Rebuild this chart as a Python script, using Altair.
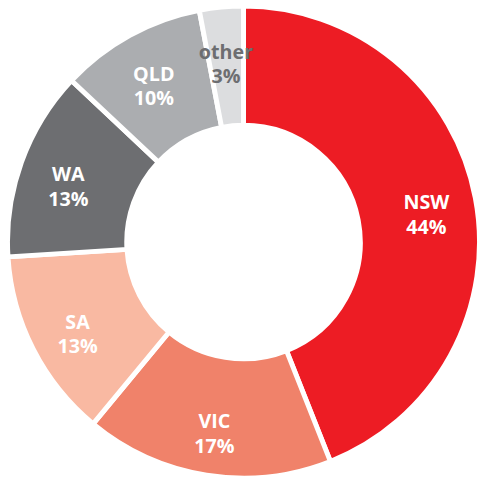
import altair as alt
import pandas as pd

regions = ["NSW", "VIC", "SA", "WA", "QLD", "other"]
shares = [44, 17, 13, 13, 10, 3]
colors = ["#ED1C24", "#F0826A", "#F9B9A2", "#6D6E71", "#ABADB0", "#DCDDDF"]
text_colors = ["#FFFFFF", "#FFFFFF", "#FFFFFF", "#FFFFFF", "#FFFFFF", "#6D6E71"]

df = pd.DataFrame({
    "region": regions,
    "share": shares,
    "order": list(range(len(regions))),
    "tcolor": text_colors,
})
df["pct"] = df["share"].astype(str) + "%"

base = alt.Chart(df).encode(
    theta=alt.Theta("share:Q", stack=True),
    order=alt.Order("order:Q", sort="ascending"),
)

arcs = base.mark_arc(
    radius=239.5, radius2=118.5, stroke="white", strokeWidth=5, strokeJoin="round",
).encode(
    x=alt.value(239), y=alt.value(234),
    color=alt.Color("region:N", scale=alt.Scale(domain=regions, range=colors), legend=None),
)

text_style = dict(radius=189, font="Open Sans", fontSize=20, fontWeight=700,
                  align="center", baseline="middle")

names = base.mark_text(dy=-4, **text_style).encode(
    x=alt.value(239), y=alt.value(234),
    text="region:N",
    color=alt.Color("tcolor:N", scale=None),
)

pcts = base.mark_text(dy=21, **text_style).encode(
    x=alt.value(239), y=alt.value(234),
    text="pct:N",
    color=alt.Color("tcolor:N", scale=None),
)

chart = (arcs + names + pcts).properties(
    width=478, height=474, padding=0, autosize=alt.AutoSizeParams(type="none"),
).configure_view(stroke=None)

chart.save("out.html", embed_options={"renderer": "svg", "actions": False})
